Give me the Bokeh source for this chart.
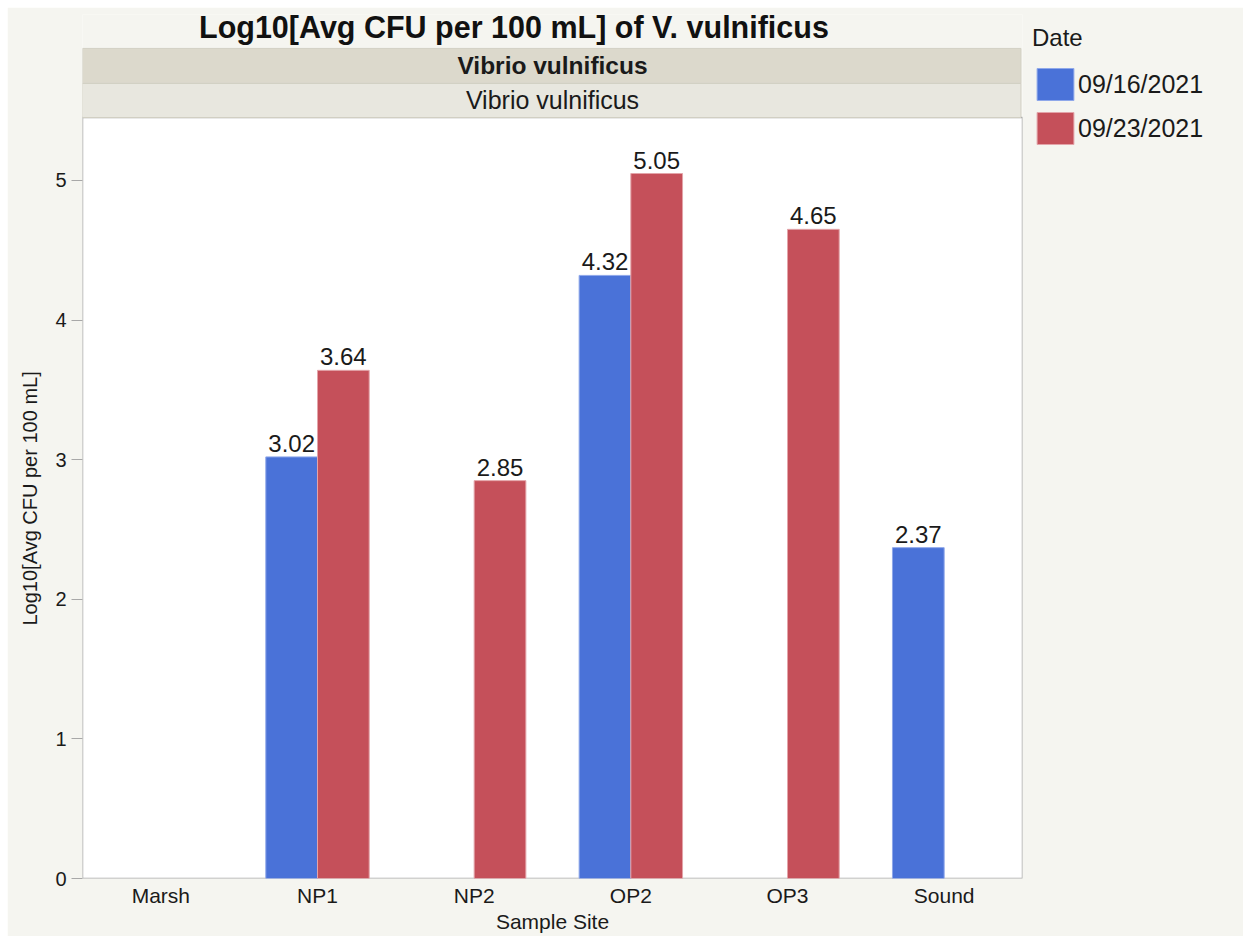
import math
from bokeh.plotting import figure
from bokeh.models import (ColumnDataSource, FactorRange, Range1d, Legend,
                          LegendItem, Title, FixedTicker)
from bokeh.transform import dodge
from bokeh.core.properties import value
from bokeh.embed import file_html
from bokeh.resources import INLINE

# ---- data ----
sites = ["Marsh", "NP1", "NP2", "OP2", "OP3", "Sound"]
dates = ["09/16/2021", "09/23/2021"]
vals_0916 = [None, 3.02, None, 4.32, None, 2.37]
vals_0923 = [None, 3.64, 2.85, 5.05, 4.65, None]
y_ticks = [0, 1, 2, 3, 4, 5]
title_text = "Log10[Avg CFU per 100 mL] of V. vulnificus"
group_text = "Vibrio vulnificus"
y_label = "Log10[Avg CFU per 100 mL]"
x_label = "Sample Site"

# ---- style ----
BG = "#f5f5f0"
BLUE = "#4a72d8"
RED = "#c5505a"
FONT = "Liberation Sans"
TXT = "#1a1a1a"
FRAME = "#a8a8a8"

Y_TOP = 6.189         # full frame top (includes title + header bands)
PLOT_TOP = 5.451      # white data area top
BAND_MID = 5.695
BAND_TOP = 5.946
DODGE = 0.165
BAR_W = 0.33

p = figure(frame_width=940, frame_height=864,
           x_range=FactorRange(*sites, range_padding=0),
           y_range=Range1d(0, Y_TOP),
           output_backend="svg", toolbar_location=None,
           min_border_left=75, min_border_right=214,
           min_border_top=7, min_border_bottom=58,
           background_fill_color=BG, border_fill_color=BG,
           outline_line_color=None)
p.margin = (7, 7, 7, 7)

# white data area with frame border
p.quad(left=[0], right=[6], bottom=[0], top=[PLOT_TOP],
       fill_color="white", line_color=FRAME, line_width=1.5)

# header bands
p.quad(left=[0], right=[5.99], bottom=[BAND_MID], top=[BAND_TOP],
       fill_color="#dcd9cc", line_color="#d2d0c4", line_width=1)
p.quad(left=[0], right=[5.99], bottom=[PLOT_TOP], top=[BAND_MID],
       fill_color="#e8e7df", line_color="#d2d0c4", line_width=1)
p.text(x=[3], y=[(BAND_MID + BAND_TOP) / 2], text=[group_text],
       text_align="center", text_baseline="middle",
       text_font=value(FONT), text_font_size="24.5px",
       text_font_style="bold", text_color=TXT)
p.text(x=[3], y=[(PLOT_TOP + BAND_MID) / 2], text=[group_text],
       text_align="center", text_baseline="middle",
       text_font=value(FONT), text_font_size="25px",
       text_font_style="normal", text_color=TXT)

# title
p.text(x=[2.754], y=[6.096], text=[title_text],
       text_align="center", text_baseline="middle",
       text_font=value(FONT), text_font_size="30.5px",
       text_font_style="bold", text_color="#111111")

src = ColumnDataSource(dict(
    site=sites,
    a=[float("nan") if v is None else v for v in vals_0916],
    b=[float("nan") if v is None else v for v in vals_0923],
))

r1 = p.vbar(x=dodge("site", -DODGE, range=p.x_range), top="a", width=BAR_W,
            source=src, fill_color=BLUE, line_color="#8fa8ea", line_width=1)
r2 = p.vbar(x=dodge("site", DODGE, range=p.x_range), top="b", width=BAR_W,
            source=src, fill_color=RED, line_color="#e3a4a9", line_width=1)

# value labels
for vals, off in ((vals_0916, -DODGE), (vals_0923, DODGE)):
    xs = [s for s, v in zip(sites, vals) if v is not None]
    ys = [v for v in vals if v is not None]
    lsrc = ColumnDataSource(dict(site=xs, y=ys, t=["%.2f" % v for v in ys]))
    p.text(x=dodge("site", off, range=p.x_range), y="y", text="t", source=lsrc,
           text_align="center", text_baseline="bottom", y_offset=-5,
           text_font=value(FONT), text_font_size="24px", text_color=TXT)

# axes
p.grid.visible = False
p.xaxis.axis_line_color = None
p.xaxis.major_tick_line_color = None
p.xaxis.minor_tick_line_color = None
p.xaxis.major_tick_out = 0
p.xaxis.major_label_standoff = 5
p.xaxis.major_label_text_font = FONT
p.xaxis.major_label_text_font_size = "21px"
p.xaxis.major_label_text_color = TXT
p.xaxis.axis_label = x_label
p.xaxis.axis_label_standoff = 0
p.xaxis.axis_label_text_font = FONT
p.xaxis.axis_label_text_font_size = "21px"
p.xaxis.axis_label_text_font_style = "normal"
p.xaxis.axis_label_text_color = TXT

p.yaxis.ticker = FixedTicker(ticks=y_ticks)
p.yaxis.axis_line_color = None
p.yaxis.major_tick_line_color = FRAME
p.yaxis.major_tick_out = 11
p.yaxis.major_tick_in = 0
p.yaxis.minor_tick_line_color = None
p.yaxis.major_label_standoff = 5
p.yaxis.major_label_text_font = FONT
p.yaxis.major_label_text_font_size = "20px"
p.yaxis.major_label_text_color = TXT

p.add_layout(Title(text=y_label, align="left", offset=253, standoff=20,
                   vertical_align="top",
                   text_font=FONT, text_font_size="20px",
                   text_font_style="normal", text_color=TXT), "left")

legend = Legend(items=[LegendItem(label=dates[0], renderers=[r1]),
                       LegendItem(label=dates[1], renderers=[r2])],
                location="top_left", title="Date",
                title_text_font=FONT, title_text_font_size="24px",
                title_text_font_style="normal", title_text_color=TXT,
                title_standoff=12,
                label_text_font=FONT, label_text_font_size="25px",
                label_text_color=TXT, label_standoff=0,
                glyph_width=46, glyph_height=40, spacing=4,
                margin=10, padding=0,
                border_line_color=None, background_fill_color=BG,
                background_fill_alpha=1.0)
p.add_layout(legend, "right")

open("out.html", "w").write(file_html(p, INLINE))
